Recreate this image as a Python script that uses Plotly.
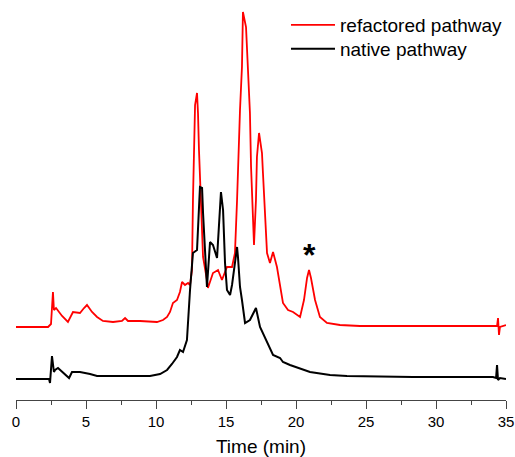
import plotly.graph_objects as go

# Retention time (min) and detector signal (arbitrary units, offset traces)
red_time = [0, 2.29, 2.5, 2.64, 2.71, 2.86, 3.29, 3.71, 4.07, 4.57, 4.86, 5.07, 5.43, 5.79, 6.21,
            6.93, 7.57, 7.79, 8.0, 8.29, 8.86, 10.07, 10.5, 10.79, 11.0, 11.21, 11.5, 11.71, 11.86,
            12.07, 12.29, 12.43, 12.57, 12.64, 12.7, 12.79, 12.93, 13.0, 13.07, 13.21, 13.36, 13.64,
            13.71, 14.07, 14.43, 14.71, 15.07, 15.43, 15.64, 15.79, 15.86, 16.0, 16.14, 16.21, 16.43,
            16.57, 16.71, 16.79, 16.93, 17.0, 17.14, 17.21, 17.36, 17.57, 17.64, 17.79, 17.93, 18.14,
            18.36, 18.64, 18.86, 19.07, 19.43, 19.79, 20.29, 20.57, 20.79, 20.93, 21.07, 21.36, 21.71,
            22.21, 23.14, 24.57, 27.43, 34.36, 34.43, 34.5, 34.57, 35.0]
red_signal = [72, 72, 75, 107, 89, 91, 83, 77, 87, 86, 91, 94, 87, 82, 78,
              77, 78, 81, 78, 78, 78, 77, 79, 82, 87, 96, 99, 107, 117,
              114, 116, 114, 129, 199, 256, 294, 306, 286, 249, 199, 142, 119,
              111, 126, 129, 119, 132, 132, 146, 199, 239, 289, 332, 387, 372,
              332, 286, 232, 184, 154, 199, 242, 266, 246, 226, 179, 146, 136,
              147, 132, 114, 96, 89, 87, 82, 99, 121, 129, 121, 99, 82,
              76, 74, 73, 73, 73, 81, 64, 72, 74]

black_time = [0, 2.36, 2.43, 2.57, 2.71, 2.79, 3.0, 3.36, 3.79, 4.0, 4.57, 5.29, 5.79, 7.21, 9.57,
              10.29, 10.79, 11.14, 11.5, 11.71, 11.93, 12.21, 12.36, 12.43, 12.64, 12.93, 13.14,
              13.29, 13.36, 13.5, 13.64, 13.86, 14.07, 14.36, 14.5, 14.64, 14.79, 14.93, 15.07,
              15.29, 15.43, 15.64, 15.79, 15.86, 16.0, 16.14, 16.36, 16.71, 17.14, 17.43, 17.93,
              18.36, 18.86, 19.07, 19.57, 20.5, 21.0, 22.43, 23.64, 28.36, 34.07, 34.29, 34.36,
              34.43, 34.57, 35.0]
black_signal = [20, 20, 16, 43, 27, 29, 31, 26, 21, 27, 27, 25, 23, 23, 23,
                25, 29, 35, 42, 49, 47, 59, 99, 109, 146, 149, 212,
                211, 186, 146, 112, 157, 154, 141, 169, 207, 189, 136, 109,
                104, 114, 134, 152, 141, 112, 99, 76, 79, 91, 72, 56,
                44, 41, 37, 34, 29, 27, 24, 23, 22, 22, 21, 34,
                19, 21, 20]

x_ticks = [0, 5, 10, 15, 20, 25, 30, 35]
series_names = ["refactored pathway", "native pathway"]
marker_time, marker_signal, marker_text = [20.93], [149], ["<b>*</b>"]

FONT = "Arial, Liberation Sans, sans-serif"

fig = go.Figure()
fig.add_trace(go.Scatter(x=red_time, y=red_signal, mode="lines", name=series_names[0],
                         line=dict(color="#ff0000", width=1.8), legend="legend"))
fig.add_trace(go.Scatter(x=black_time, y=black_signal, mode="lines", name=series_names[1],
                         line=dict(color="#000000", width=2.0), legend="legend2"))

fig.add_annotation(x=marker_time[0], y=marker_signal[0], text=marker_text[0], showarrow=False,
                   font=dict(family=FONT, size=32, color="black"), yshift=-5)

legend_common = dict(xanchor="left", yanchor="top", font=dict(family=FONT, size=19, color="black"),
                     itemwidth=44, bgcolor="rgba(0,0,0,0)")

fig.update_layout(
    width=515, height=457,
    margin=dict(l=16, r=9, t=8, b=57, autoexpand=False),
    paper_bgcolor="white", plot_bgcolor="white",
    font=dict(family=FONT, color="black"),
    showlegend=True,
    legend=dict(x=0.551, y=1.005, **legend_common),
    legend2=dict(x=0.551, y=0.944, **legend_common),
    xaxis=dict(range=[0, 35], tickvals=x_ticks, ticks="outside", ticklen=8, tickwidth=1,
               tickcolor="#444444", showline=True, linecolor="#444444", linewidth=1,
               showgrid=False, zeroline=False, tickfont=dict(size=15, color="black"),
               automargin=False,
               minor=dict(dtick=2.5, ticks="outside", ticklen=4, tickcolor="#444444", showgrid=False),
               title=dict(text="Time (min)", font=dict(size=19, color="black"), standoff=12)),
    yaxis=dict(range=[-1, 391], visible=False, showgrid=False, zeroline=False, automargin=False),
)

fig.write_html(
    "out.html",
    config={"displayModeBar": False},
    post_script="document.body.style.margin='0';document.body.style.overflow='hidden';"
                "document.documentElement.style.overflow='hidden';",
)
